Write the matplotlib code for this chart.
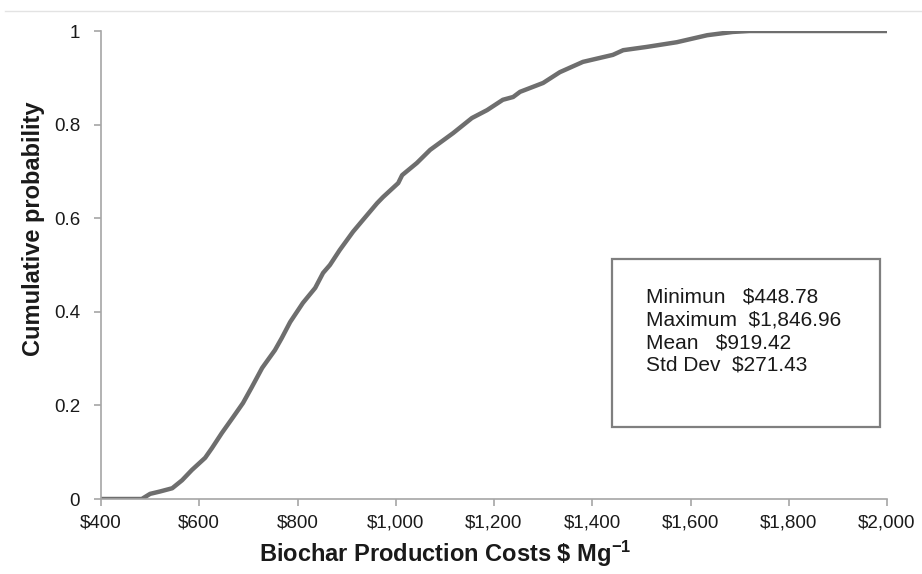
import matplotlib
matplotlib.use('Agg')
import matplotlib.pyplot as plt
from matplotlib.lines import Line2D
from matplotlib.patches import Rectangle
from matplotlib.ticker import FuncFormatter

plt.rcParams['font.family'] = ['Liberation Sans', 'DejaVu Sans']
plt.rcParams['mathtext.fontset'] = 'custom'
plt.rcParams['mathtext.rm'] = 'Liberation Sans:bold'
plt.rcParams['mathtext.it'] = 'Liberation Sans:bold'
plt.rcParams['mathtext.bf'] = 'Liberation Sans:bold'

# cumulative distribution
cost = [400, 483, 500, 520, 545, 565, 585, 612, 626, 646, 669, 689, 707, 728,
        754, 768, 785, 811, 836, 852, 866, 886, 913, 933, 962, 974, 1005, 1013,
        1043, 1070, 1117, 1155, 1186, 1218, 1239, 1253, 1300, 1334, 1381, 1442,
        1463, 1511, 1572, 1634, 1686, 1720, 2000]
prob = [0, 0, 0.011, 0.016, 0.023, 0.04, 0.062, 0.088, 0.109, 0.141, 0.175,
        0.205, 0.239, 0.28, 0.318, 0.344, 0.378, 0.419, 0.451, 0.483, 0.5,
        0.532, 0.571, 0.596, 0.632, 0.645, 0.675, 0.692, 0.718, 0.746, 0.782,
        0.814, 0.831, 0.853, 0.859, 0.87, 0.889, 0.912, 0.934, 0.949, 0.959,
        0.966, 0.976, 0.991, 0.998, 1.0, 1.0]

x_ticks = [400, 600, 800, 1000, 1200, 1400, 1600, 1800, 2000]
y_ticks = [0, 0.2, 0.4, 0.6, 0.8, 1]

stat_names = ['Minimun', 'Maximum', 'Mean', 'Std Dev']
stat_values = ['$448.78', '$1,846.96', '$919.42', '$271.43']
stat_gaps = ['   ', '  ', '   ', '  ']

W, H = 922, 574
fig = plt.figure(figsize=(W / 100, H / 100), dpi=100)
ax = fig.add_axes([101 / W, 1 - 499 / H, 786 / W, 468 / H])

ax.plot(cost, prob, color='#6e6e6e', linewidth=3.2, solid_capstyle='butt')

ax.set_xlim(400, 2000)
ax.set_ylim(0, 1)
ax.set_xticks(x_ticks)
ax.set_yticks(y_ticks)
ax.xaxis.set_major_formatter(FuncFormatter(lambda v, p: f'${v:,.0f}'))
ax.yaxis.set_major_formatter(FuncFormatter(lambda v, p: f'{v:g}'))

for s in ['top', 'right']:
    ax.spines[s].set_visible(False)
for s in ['left', 'bottom']:
    ax.spines[s].set_color('#a6a6a6')
    ax.spines[s].set_linewidth(1.2)
ax.tick_params(axis='both', colors='#a6a6a6', length=5, width=1.2,
               labelsize=13.5, labelcolor='#1a1a1a')
ax.tick_params(axis='x', pad=6)
ax.tick_params(axis='y', pad=10)

# axis titles placed where the original has them (slightly off centre)
fig.text(445 / W, 1 - 562 / H, r'Biochar Production Costs \$ Mg$^{-1}$',
         fontsize=17, fontweight='bold', color='#1a1a1a',
         ha='center', va='baseline')
fig.text(34 / W, 1 - 229 / H, 'Cumulative probability', fontsize=17,
         fontweight='bold', color='#1a1a1a', rotation=90,
         ha='center', va='center')

# statistics box
fig.add_artist(Rectangle((612 / W, 1 - 427 / H), 268 / W, 168 / H,
                         transform=fig.transFigure, facecolor='white',
                         edgecolor='#7f7f7f', linewidth=1.6))
for i, (n, g, v) in enumerate(zip(stat_names, stat_gaps, stat_values)):
    fig.text(646 / W, 1 - (302 + 23 * i) / H, n + g + v, fontsize=15,
             va='baseline', ha='left', color='#1a1a1a', parse_math=False)

# faint frame line at the top
fig.add_artist(Line2D([5 / W, 1], [1 - 11 / H, 1 - 11 / H],
                      transform=fig.transFigure, color='#e3e3e3', linewidth=1))

plt.savefig('out.png', dpi=100)
plt.close()
